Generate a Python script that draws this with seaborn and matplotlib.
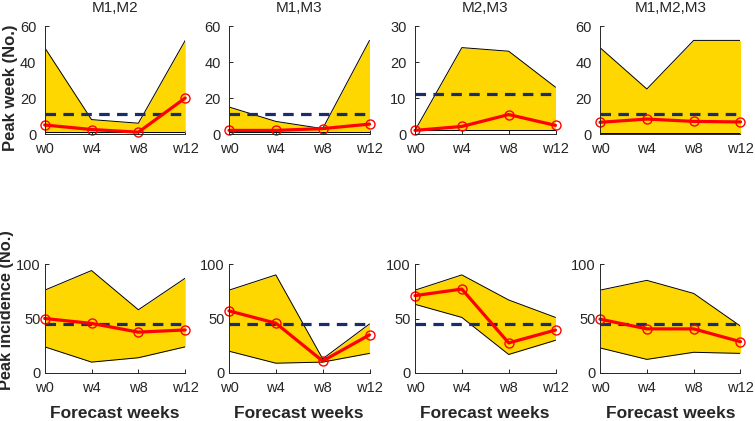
import numpy as np
import matplotlib
matplotlib.use("Agg")
import matplotlib.pyplot as plt
import seaborn as sns
import pandas as pd

sns.set_style("ticks")
plt.rcParams['font.family'] = ['Liberation Sans', 'DejaVu Sans']

weeks = [0, 4, 8, 12]
week_labels = ['w0', 'w4', 'w8', 'w12']
titles = ['M1,M2', 'M1,M3', 'M2,M3', 'M1,M2,M3']

# peak week (top row)
pw_upper = [[48, 8, 6, 52], [15, 7, 3, 52], [1, 24, 23, 13], [48, 25, 52, 52]]
pw_lower = [[1, 1, 1, 1], [1, 1, 1, 1], [1, 1, 1, 1], [0.5, 0.5, 0.5, 0.5]]
pw_median = [[5, 2.5, 1, 20], [2, 2, 3, 5.5], [1, 2.1, 5.4, 2.4], [6.5, 8.3, 7, 6.7]]
pw_obs = 11

# peak incidence (bottom row)
pi_upper = [[76, 94, 58, 87], [76, 90, 13, 45], [76, 90, 67, 51], [76, 85, 73, 43]]
pi_lower = [[24, 10, 14, 24], [20, 9, 10, 18], [63, 51, 17, 30], [23, 12.5, 19, 18]]
pi_median = [[50, 45.5, 37.5, 39.5], [57, 45.7, 11, 35], [71, 77, 27.6, 39.4], [49.4, 40.5, 40.5, 28.7]]
pi_obs = 45

fig = plt.figure(figsize=(7.55, 4.21), dpi=100)
W, H = 755, 421
cols = [44.7, 229, 415, 600]
aw = 140.5
txt = '#262626'


def panel(ax, up, lo, med, obs, ylim, yticks, ypad=6):
    ax.fill_between(weeks, lo, up, color='#FFD700', lw=0)
    ax.plot(weeks, up, color='black', lw=0.7)
    ax.plot(weeks, lo, color='black', lw=0.7)
    ax.plot([0, 12], [obs, obs], color='#1A2D6B', lw=2.3, dashes=(3.3, 2.3))
    df = pd.DataFrame({'week': weeks, 'value': med})
    sns.lineplot(data=df, x='week', y='value', ax=ax, color='#FF0000', lw=2.3,
                 marker='o', markersize=6.5, markerfacecolor='none',
                 markeredgecolor='#FF0000', markeredgewidth=1.0, clip_on=False)
    ax.set_xlim(0, 12)
    ax.set_ylim(*ylim)
    ax.set_xticks(weeks)
    ax.set_xticklabels(week_labels)
    ax.set_yticks(yticks)
    ax.set_xlabel('')
    ax.set_ylabel('')
    for s in ['top', 'right']:
        ax.spines[s].set_visible(False)
    for s in ['left', 'bottom']:
        ax.spines[s].set_color(txt)
        ax.spines[s].set_linewidth(0.7)
    ax.tick_params(direction='in', length=3, width=0.7, color=txt,
                   labelsize=10.5, labelcolor=txt, pad=6)
    ax.tick_params(axis='y', pad=ypad)


for i in range(4):
    ax = fig.add_axes([cols[i] / W, 1 - 134 / H, aw / W, 108 / H])
    if i == 2:
        panel(ax, pw_upper[i], pw_lower[i], pw_median[i], pw_obs, (0, 30), [0, 10, 20, 30])
    else:
        panel(ax, pw_upper[i], pw_lower[i], pw_median[i], pw_obs, (0, 60), [0, 20, 40, 60])
    ax.set_title(titles[i], fontsize=11, color=txt, pad=10)
    if i == 0:
        ax.set_ylabel('Peak week (No.)', fontsize=12, fontweight='bold', color=txt)
        ax.yaxis.set_label_coords(-0.19, 0.43)

    ax2 = fig.add_axes([cols[i] / W, 1 - 373 / H, aw / W, 109 / H])
    panel(ax2, pi_upper[i], pi_lower[i], pi_median[i], pi_obs, (0, 100), [0, 50, 100], ypad=3)
    ax2.set_xlabel('Forecast weeks', fontsize=12.5, fontweight='bold', color=txt, labelpad=8)
    if i == 0:
        ax2.set_ylabel('Peak incidence (No.)', fontsize=11.8, fontweight='bold', color=txt)
        ax2.yaxis.set_label_coords(-0.215, 0.58)

fig.savefig('out.png', dpi=100)
